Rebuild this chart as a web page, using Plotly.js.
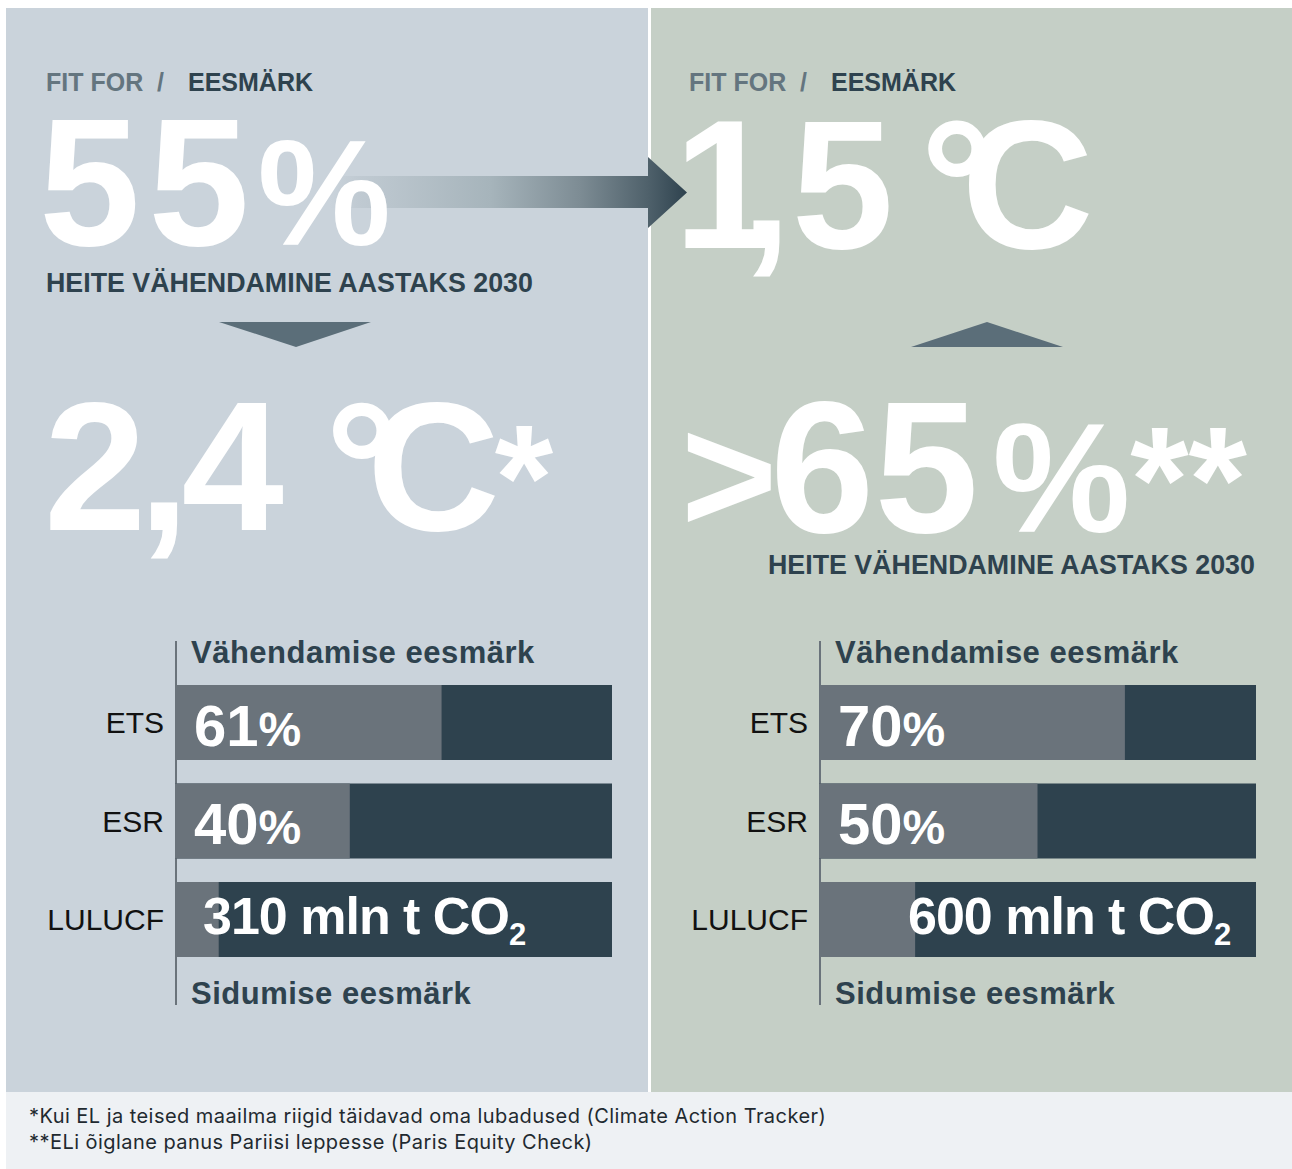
<!DOCTYPE html>
<html>
<head>
<meta charset="utf-8">
<script src="https://cdn.plot.ly/plotly-3.0.1.min.js"></script>
<style>
  html, body { margin: 0; padding: 0; background: #ffffff; }
  #chart { width: 1292px; height: 1169px; }
</style>
</head>
<body>
<div id="chart"></div>
<script>
// ---------------- DATA ----------------
const categories = ['ETS', 'ESR', 'LULUCF'];
const fullBar = [100, 100, 100];
const leftShare = [61, 40, 10];      // grey share of each bar, Fit for 55
const rightShare = [70, 50, 22];     // grey share of each bar, 1.5 °C target
const leftLabels = ['61%', '40%', '310 mln t CO₂'];
const rightLabels = ['70%', '50%', '600 mln t CO₂'];
const kickerLight = 'FIT FOR  /';
const kickerDark = 'EESMÄRK';
const leftHeadline = '55%';
const leftSubline = 'HEITE VÄHENDAMINE AASTAKS 2030';
const leftOutcome = '2,4 °C*';
const rightHeadline = '1,5 °C';
const rightOutcome = '>65%**';
const rightSubline = 'HEITE VÄHENDAMINE AASTAKS 2030';
const barHeaderTop = 'Vähendamise eesmärk';
const barHeaderBottom = 'Sidumise eesmärk';
const footnotes = [
  '*Kui EL ja teised maailma riigid täidavad oma lubadused (Climate Action Tracker)',
  '**ELi õiglane panus Pariisi leppesse (Paris Equity Check)'
];

// ---------------- STYLE ----------------
const W = 1292, H = 1169;
const FONT = 'Liberation Sans, Arial, Helvetica, sans-serif';
const FOOT_FONT = 'Inter, Liberation Sans, Arial, sans-serif';
const C_LEFT = '#cad3db', C_RIGHT = '#c5cfc6', C_FOOT = '#eef1f4';
const C_GREY = '#6a737b', C_DARK = '#2e424e', C_KICK = '#64757f', C_TRI = '#5b6e79';

const px = x => x / W;
const py = y => 1 - y / H;

function esc(c) {
  if (c === '>') return '&gt;';
  if (c === '<') return '&lt;';
  if (c === '&') return '&amp;';
  if (c === ' ') return '\u00a0';
  return c;
}
// per-character tracking / size for the display numerals
function tracked(str, spacing, sizes) {
  return Array.from(str).map((c, i) =>
    "<span style='letter-spacing:" + spacing[i] + "px;font-size:" + sizes[i] + "px'>" + esc(c) + '</span>'
  ).join('');
}

function textAnn(text, x, baseline, size, opts) {
  opts = opts || {};
  return Object.assign({
    xref: 'paper', yref: 'paper',
    x: px(x), y: py(baseline - 0.3465 * size),
    xanchor: 'left', yanchor: 'middle',
    text: text, showarrow: false,
    font: { family: FONT, size: size, color: '#ffffff', weight: 700 }
  }, opts);
}
function darkFont(size, family, weight, color) {
  return { family: family || FONT, size: size, color: color || C_DARK, weight: weight || 700 };
}

function fmtLabel(s) {
  if (s.endsWith('%')) return s.slice(0, -1) + "<span style='font-size:48px'>%</span>";
  const parts = s.split('₂');
  return "<span style='letter-spacing:-1px'>" + parts[0] + "</span><sub><span style='font-size:31px'>2</span></sub>" + (parts[1] || '');
}

// ---------------- SHAPES ----------------
function rect(x0, y0, x1, y1, color) {
  return { type: 'rect', xref: 'paper', yref: 'paper', x0: px(x0), x1: px(x1), y0: py(y1), y1: py(y0),
           fillcolor: color, line: { width: 0 }, layer: 'below' };
}
function poly(points, color) {
  const d = points.map((p, i) => (i ? 'L' : 'M') + px(p[0]).toFixed(5) + ',' + py(p[1]).toFixed(5)).join(' ') + ' Z';
  return { type: 'path', xref: 'paper', yref: 'paper', path: d, fillcolor: color, line: { width: 0 }, layer: 'below' };
}
function vline(x, y0, y1) {
  return { type: 'line', xref: 'paper', yref: 'paper', x0: px(x), x1: px(x), y0: py(y0), y1: py(y1),
           line: { color: C_GREY, width: 2 }, layer: 'below' };
}

const shapes = [
  rect(6, 8, 648, 1092, C_LEFT),
  rect(651, 8, 1292, 1092, C_RIGHT),
  rect(6, 1092, 1292, 1169, C_FOOT),
  poly([[219, 322], [371, 322], [296, 347]], C_TRI),
  poly([[911, 347], [1063, 347], [987, 322]], C_TRI),
  vline(176, 641, 1005),
  vline(820, 641, 1005)
];

// ---------------- TRACES ----------------
const barCommon = { type: 'bar', orientation: 'h', hoverinfo: 'skip', textposition: 'none', showlegend: false };
const traces = [
  Object.assign({}, barCommon, { x: fullBar, y: categories, xaxis: 'x', yaxis: 'y', marker: { color: C_DARK } }),
  Object.assign({}, barCommon, { x: leftShare, y: categories, xaxis: 'x', yaxis: 'y', marker: { color: C_GREY } }),
  Object.assign({}, barCommon, { x: fullBar, y: categories, xaxis: 'x2', yaxis: 'y2', marker: { color: C_DARK } }),
  Object.assign({}, barCommon, { x: rightShare, y: categories, xaxis: 'x2', yaxis: 'y2', marker: { color: C_GREY } }),
  // gradient arrow from the 55 % panel to the 1,5 °C panel
  {
    type: 'scatter', mode: 'lines', xaxis: 'x3', yaxis: 'y3', hoverinfo: 'skip', showlegend: false,
    x: [330, 648, 648, 687, 648, 648, 330],
    y: [176, 176, 157, 192.5, 228, 208, 208],
    fill: 'toself', line: { width: 0, color: 'rgba(0,0,0,0)' },
    fillcolor: '#7d8c94',
    fillgradient: {
      type: 'horizontal', start: 330, stop: 687,
      colorscale: [[0, '#cad3db'], [0.08, '#c0cad2'], [0.45, '#a6b4bb'], [0.7, '#7d8c94'], [0.89, '#4f616b'], [1, '#2e424e']]
    }
  }
];

// ---------------- AXES ----------------
const bandTop = 673.25, bandBottom = 968.75;
const yDomain = [py(bandBottom), py(bandTop)];
const yAxisCommon = {
  type: 'category', autorange: 'reversed', domain: yDomain,
  showgrid: false, zeroline: false, showline: false, ticks: '',
  ticklabelstandoff: 10, fixedrange: true,
  tickfont: { family: FONT, size: 30, color: '#111111' }
};
const xAxisCommon = { range: [0, 100], visible: false, fixedrange: true, showgrid: false, zeroline: false };

// ---------------- ANNOTATIONS ----------------
const anns = [];
const kickLight = kickerLight.replace(/ /g, '\u00a0');
// kickers
anns.push(textAnn(kickLight, 44, 91, 25, { font: darkFont(25, FONT, 700, C_KICK) }));
anns.push(textAnn(kickerDark, 186, 91, 25, { font: darkFont(25) }));
anns.push(textAnn(kickLight, 687, 91, 25, { font: darkFont(25, FONT, 700, C_KICK) }));
anns.push(textAnn(kickerDark, 829, 91, 25, { font: darkFont(25) }));
// big numerals
anns.push(textAnn(tracked(leftHeadline, [8, 8, 0], [182, 182, 150]), 37, 245, 182));
anns.push(textAnn(tracked(leftOutcome, [-8, -8, -5, -5, -31.6, -5, 0], [184, 184, 184, 184, 184, 184, 150]), 42, 530, 184));
anns.push(textAnn(tracked(rightHeadline, [-35, 0, -12, -12, -32, 0], [183, 183, 183, 183, 183, 183]), 672, 248, 183));
anns.push(textAnn(tracked(rightOutcome, [-7, 0, 14, 0, 0, 0], [165, 187, 187, 155, 150, 150]), 679, 532, 187));
// sublines
anns.push(textAnn(leftSubline, 44, 292, 26.8, { font: darkFont(26.8) }));
anns.push(textAnn(rightSubline, 1257, 574, 26.8, { xanchor: 'right', font: darkFont(26.8) }));
// bar block headers
[189, 833].forEach(x => {
  anns.push(textAnn("<span style='letter-spacing:0.5px'>" + barHeaderTop + '</span>', x, 663, 31, { font: darkFont(31) }));
  anns.push(textAnn("<span style='letter-spacing:0.5px'>" + barHeaderBottom + '</span>', x, 1004, 31, { font: darkFont(31) }));
});
// bar value labels
const labelYShift = [-3, -2, 0];
function barLabels(labels, xa, ya, lastRight) {
  labels.forEach((lab, i) => {
    const isLast = i === labels.length - 1;
    const right = isLast && lastRight;
    anns.push({
      xref: xa, yref: ya, x: right ? 100 : 0, y: categories[i],
      xanchor: right ? 'right' : 'left', yanchor: 'middle',
      xshift: right ? -23 : (isLast ? 26 : 17), yshift: labelYShift[i],
      text: fmtLabel(lab), showarrow: false,
      font: { family: FONT, size: isLast ? 52 : 58, color: '#ffffff', weight: 700 }
    });
  });
}
barLabels(leftLabels, 'x', 'y', false);
barLabels(rightLabels, 'x2', 'y2', true);
// footnotes
footnotes.forEach((f, i) => {
  anns.push(textAnn("<span style='letter-spacing:0.45px'>" + f + '</span>', 27, 1123 + i * 26, 20,
    { font: darkFont(20, FOOT_FONT, 400, '#1f2a30') }));
});

// ---------------- LAYOUT ----------------
const layout = {
  width: W, height: H,
  margin: { l: 0, r: 0, t: 0, b: 0, pad: 0 },
  paper_bgcolor: '#ffffff', plot_bgcolor: 'rgba(0,0,0,0)',
  barmode: 'overlay', bargap: 1 - 75 / 98.5,
  showlegend: false,
  xaxis: Object.assign({}, xAxisCommon, { domain: [px(175), px(612)], anchor: 'y' }),
  yaxis: Object.assign({}, yAxisCommon, { anchor: 'x' }),
  xaxis2: Object.assign({}, xAxisCommon, { domain: [px(819), px(1256)], anchor: 'y2' }),
  yaxis2: Object.assign({}, yAxisCommon, { anchor: 'x2' }),
  xaxis3: { domain: [0, 1], range: [0, W], visible: false, fixedrange: true, anchor: 'y3' },
  yaxis3: { domain: [0, 1], range: [H, 0], visible: false, fixedrange: true, anchor: 'x3' },
  shapes: shapes,
  annotations: anns
};

Plotly.newPlot('chart', traces, layout, { staticPlot: true, displayModeBar: false });
</script>
</body>
</html>
